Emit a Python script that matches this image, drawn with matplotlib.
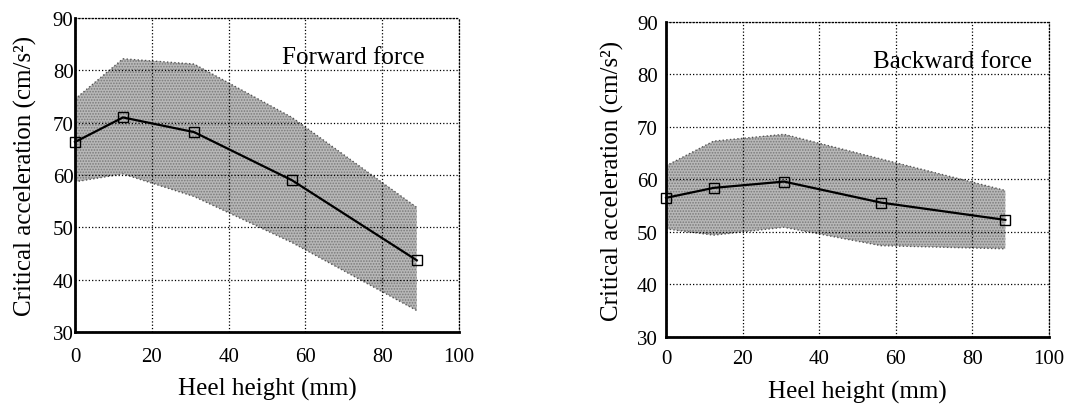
import matplotlib.pyplot as plt

plt.rcParams["font.family"] = ["Liberation Serif", "DejaVu Serif"]
plt.rcParams["hatch.linewidth"] = 0.8

# forward force panel
fwd_x = [0, 12.5, 31, 56.5, 89]
fwd_mean = [66.3, 71.0, 68.2, 59.0, 43.7]
fwd_upper = [74.5, 82.2, 81.2, 71.0, 53.8]
fwd_lower = [58.7, 60.2, 55.9, 47.1, 34.1]

# backward force panel
bwd_x = [0, 12.4, 30.8, 56.1, 88.6]
bwd_mean = [56.5, 58.4, 59.6, 55.6, 52.3]
bwd_upper = [62.6, 67.3, 68.6, 63.9, 57.9]
bwd_lower = [50.6, 49.4, 50.9, 47.4, 46.8]

xticks = [0, 20, 40, 60, 80, 100]
yticks = [30, 40, 50, 60, 70, 80, 90]


def draw_panel(ax, x, mean, upper, lower, label, ypad, xpad, ylabpad):
    ax.fill_between(x, lower, upper, facecolor="#b8b8b8", edgecolor="#7a7a7a",
                    hatch="......", linewidth=0, zorder=1)
    ax.plot(x, upper, color="#555555", linestyle=":", linewidth=1.0, zorder=2)
    ax.plot(x, lower, color="#555555", linestyle=":", linewidth=1.0, zorder=2)
    ax.plot(x, mean, color="black", linewidth=1.6, marker="s", markersize=6.5,
            markerfacecolor="none", markeredgecolor="black", markeredgewidth=1.0,
            zorder=4, clip_on=False)
    ax.set_xlim(0, 100)
    ax.set_ylim(30, 90)
    ax.set_xticks(xticks)
    ax.set_yticks(yticks)
    ax.tick_params(labelsize=15, length=0)
    ax.tick_params(axis="y", pad=ypad)
    ax.tick_params(axis="x", pad=xpad)
    ax.grid(True, color="black", linestyle=":", linewidth=0.9, zorder=3)
    ax.set_axisbelow(False)
    for side in ("top", "right"):
        ax.spines[side].set_linestyle(":")
        ax.spines[side].set_linewidth(0.9)
    for side in ("left", "bottom"):
        ax.spines[side].set_linewidth(2.0)
    ax.set_xlabel("Heel height (mm)", fontsize=18, labelpad=8)
    ax.set_ylabel("Critical acceleration (cm/s²)", fontsize=18, labelpad=ylabpad)
    ax.text(54, 82.6, label, fontsize=18, va="center", ha="left", zorder=5)


fig = plt.figure(figsize=(10.65, 4.06), dpi=100)
ax1 = fig.add_axes([0.0704, 0.1798, 0.3606, 0.7734])
ax2 = fig.add_axes([0.6254, 0.1675, 0.3596, 0.7759])

draw_panel(ax1, fwd_x, fwd_mean, fwd_upper, fwd_lower, "Forward force", 1, 11, 11)
draw_panel(ax2, bwd_x, bwd_mean, bwd_upper, bwd_lower, "Backward force", 6, 9, 9)

fig.savefig("out.png", dpi=100)
